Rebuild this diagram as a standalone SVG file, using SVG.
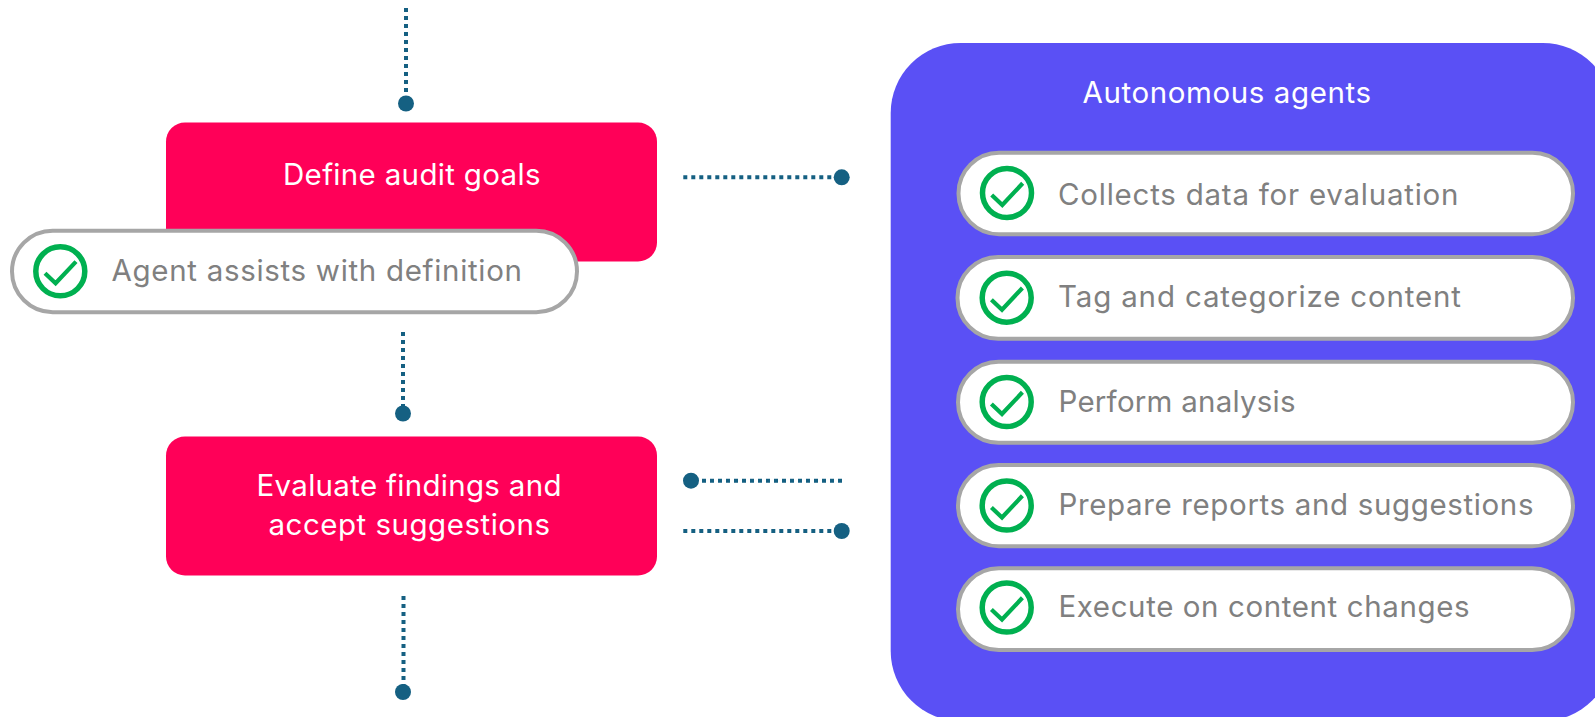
<svg xmlns="http://www.w3.org/2000/svg" width="1595" height="717" viewBox="0 0 1595 717">
<style>
text{font-family:"Inter","Liberation Sans",sans-serif;font-size:29.500px}
.r{fill:#ff0058}
.w{fill:#fff}
.g{fill:#808080}
.p{fill:#fff;stroke:#a6a6a6;stroke-width:4}
.c{fill:none;stroke:#00b050;stroke-width:5.500}
.k{fill:none;stroke:#00b050;stroke-width:4.200}
.d{fill:none;stroke:#156082;stroke-width:4;stroke-dasharray:4 4}
.e{fill:#156082}
</style>
<defs>
<g id="chk"><circle class="c" r="24.500"/><path class="k" d="M-15.300 2L-4.700 12L15.700-9.700"/></g>
</defs>
<g id="connectors">
<path class="d" d="M406 8V103"/><circle class="e" cx="406" cy="103.500" r="8"/>
<path class="d" d="M403 332V413"/><circle class="e" cx="403" cy="413.500" r="8"/>
<path class="d" d="M403.500 596V692"/><circle class="e" cx="403" cy="692" r="8"/>
<path class="d" d="M683.300 177.300H841"/><circle class="e" cx="841.700" cy="177.300" r="8"/>
<path class="d" d="M694 480.700H842"/><circle class="e" cx="691" cy="480.700" r="8"/>
<path class="d" d="M683.300 531H841"/><circle class="e" cx="841.700" cy="531" r="8"/>
</g>
<g id="define"><rect class="r" x="166" y="122.500" width="491" height="139" rx="19"/><text class="w" x="283" y="185" textLength="257.500">Define audit goals</text></g>
<g id="assist"><rect class="p" x="12" y="230.700" width="565" height="81.500" rx="40.700"/><use href="#chk" x="60.300" y="271.300"/><text class="g" x="111.500" y="281" textLength="410.500">Agent assists with definition</text></g>
<g id="evaluate"><rect class="r" x="166" y="436.500" width="491" height="139" rx="19"/><text class="w" x="256.500" y="496" textLength="305">Evaluate findings and</text><text class="w" x="268.500" y="535" textLength="281.500">accept suggestions</text></g>
<g id="agents"><rect x="890.700" y="43" width="722" height="678" rx="70" fill="#5a50f5"/><text class="w" x="1082.500" y="102.500" textLength="288.500">Autonomous agents</text></g>
<g id="a1"><rect class="p" x="958.500" y="152.700" width="614.500" height="81.500" rx="40.500"/><use href="#chk" x="1007" y="193"/><text class="g" x="1058" y="205" textLength="400.500">Collects data for evaluation</text></g>
<g id="a2"><rect class="p" x="957.500" y="257" width="615.500" height="81.800" rx="40.600"/><use href="#chk" x="1006.700" y="297.700"/><text class="g" x="1058" y="307" textLength="403">Tag and categorize content</text></g>
<g id="a3"><rect class="p" x="958" y="361.700" width="615" height="81" rx="40.500"/><use href="#chk" x="1006.700" y="402"/><text class="g" x="1058.500" y="412" textLength="237">Perform analysis</text></g>
<g id="a4"><rect class="p" x="958" y="465" width="615" height="81.300" rx="40.600"/><use href="#chk" x="1006.700" y="505.500"/><text class="g" x="1058.500" y="515" textLength="475">Prepare reports and suggestions</text></g>
<g id="a5"><rect class="p" x="958" y="568.300" width="615" height="81.700" rx="40.800"/><use href="#chk" x="1006.700" y="607.500"/><text class="g" x="1058.500" y="617" textLength="411">Execute on content changes</text></g>
</svg>
